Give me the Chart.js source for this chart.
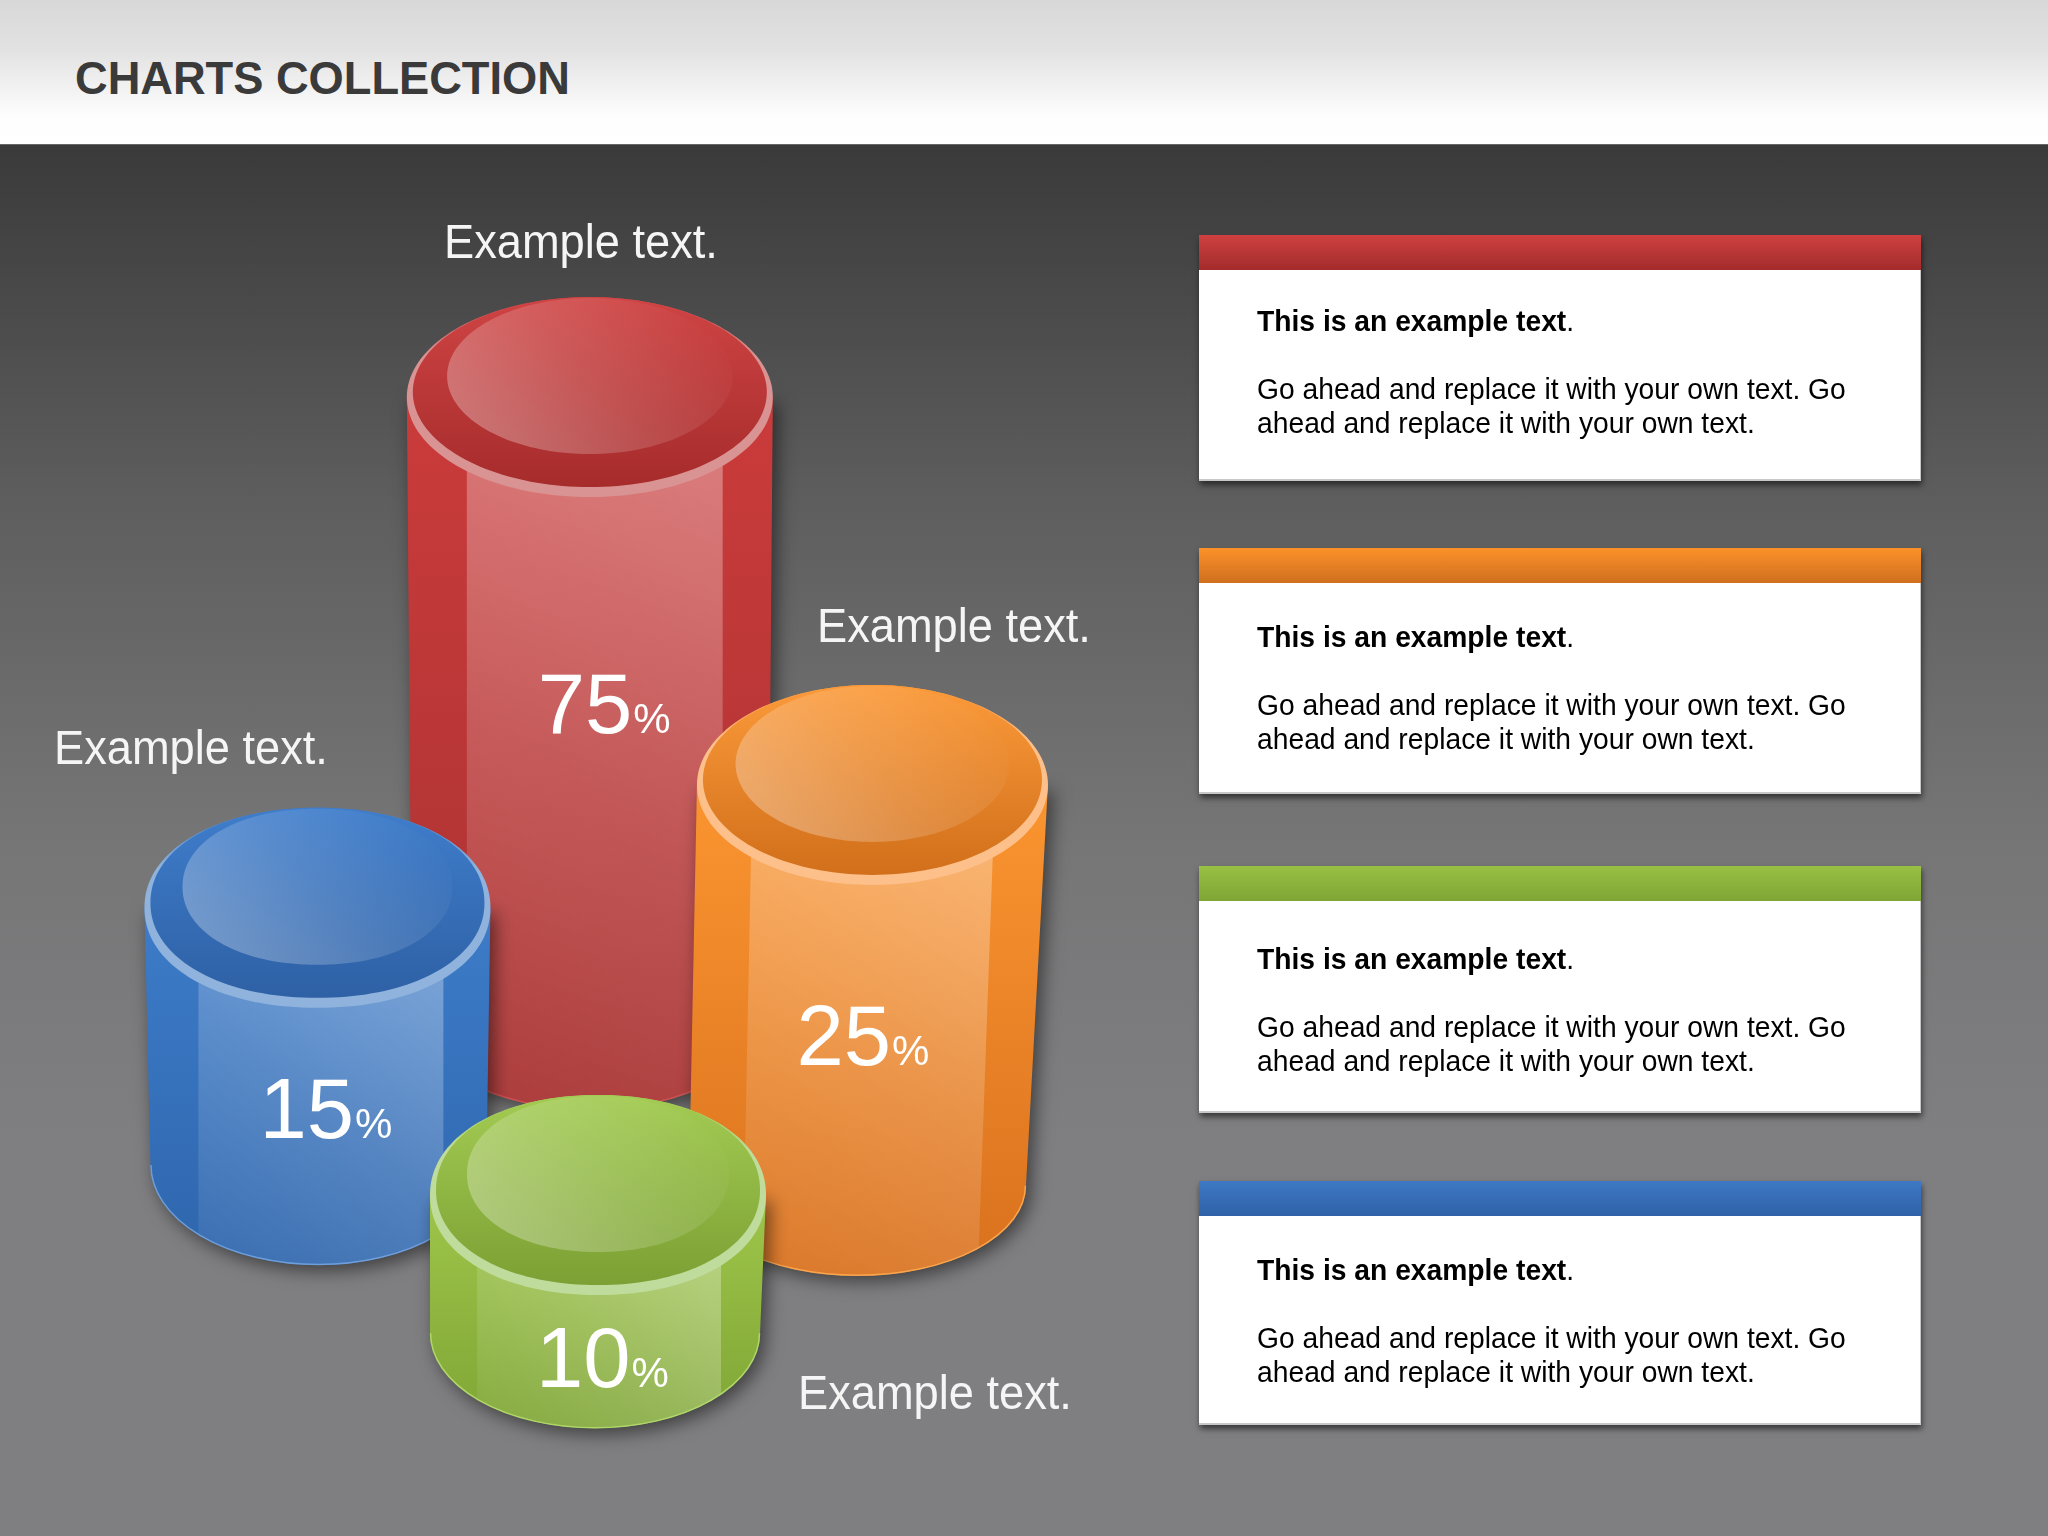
<!DOCTYPE html>
<html>
<head>
<meta charset="utf-8">
<title>Charts Collection</title>
<script src="https://cdn.jsdelivr.net/npm/chart.js@4"></script>
<style>
    html, body { margin: 0; padding: 0; }
    body { width: 2048px; height: 1536px; position: relative; overflow: hidden; font-family: "Liberation Sans", Arial, sans-serif; background: #7e7d7f; }
    #header { position: absolute; left: 0; top: 0; width: 2048px; height: 144px; background: linear-gradient(#d8d8d8 0, #e2e2e2 50px, #fdfdfd 115px, #fff 144px); }
    #header h1 { position: absolute; left: 75px; top: 53px; margin: 0; font-size: 46px; line-height: 50px; font-weight: bold; color: #3a3a3a; transform: scaleX(0.983); transform-origin: left center; }
    #stage { position: absolute; left: 0; top: 144px; width: 2048px; height: 1392px; border-top: 1px solid #666; box-sizing: border-box; background: linear-gradient(#3a3a3a 0, #5e5e5f 360px, #767677 700px, #7f7e80 1000px, #7f7e80 100%); }
    #chartCanvas { position: absolute; left: 0; top: 0; }
    .note { position: absolute; color: #f5f5f5; font-size: 48px; line-height: 56px; white-space: nowrap; transform: scaleX(0.942); transform-origin: left center; }
    .panel { position: absolute; left: 1199px; width: 722px; background: #fff; box-shadow: inset -1px -2px 0 #c8c8c8, 1px 4px 6px rgba(0, 0, 0, 0.55); }
    .panel .bar { height: 35px; }
    .panel p { position: absolute; left: 58px; margin: 0; font-size: 29px; line-height: 34px; color: #000; white-space: nowrap; transform: scaleX(0.974); transform-origin: left center; }
</style>
</head>
<body>
<div id="header"><h1>CHARTS COLLECTION</h1></div>
<div id="stage"></div>
<canvas id="chartCanvas" width="2048" height="1536"></canvas>
<div id="texts"></div>
<script>
// Cylinder values, painter's order (back to front)
const cylinderNames = ['Red', 'Blue', 'Orange', 'Green'];
const percentValues = [75, 15, 25, 10];
const cylinderCentre = [28.8, 15.5, 42.6, 29.2];
const cylinderTop = [74.15, 40.9, 48.9, 22.2];
const cylinderBottom = [34.25, 24.15, 22.8, 13.2];

const noteTexts = ['Example text.', 'Example text.', 'Example text.', 'Example text.'];
const panelHeading = 'This is an example text';
const panelLines = ['Go ahead and replace it with your own text. Go', 'ahead and replace it with your own text.'];

const cylinderStyles = [
    { width: 366, taper: 5, skew: 0, botRy: 100, round: 2.0, rim: '#d99393', bodyTop: '#cb3b3b', bodyBottom: '#a83232', capTop: '#cf4444', capBottom: '#a42a2a', edge: 'rgba(230,90,90,0.6)', panel: [0.164, 0.863, 0.164, 0.863], labelDx: -52, labelY: 733 },
    { width: 346, taper: 5, skew: 1, botRy: 100, round: 2.1, rim: '#8fb3dc', bodyTop: '#3d7cc9', bodyBottom: '#2f66ad', capTop: '#3f7dcb', capBottom: '#2d5fa3', edge: 'rgba(120,170,230,0.8)', panel: [0.156, 0.864, 0.156, 0.864], labelDx: -58, labelY: 1138 },
    { width: 351, taper: 7, skew: -15, botRy: 90, round: 2.0, rim: '#fdc08a', bodyTop: '#fb9530', bodyBottom: '#d9711e', capTop: '#fb9a3a', capBottom: '#cf6d19', edge: 'rgba(255,170,80,0.9)', panel: [0.158, 0.85, 0.13, 0.80], labelDx: -76, labelY: 1065 },
    { width: 336, taper: 3, skew: -3, botRy: 95, round: 2.1, rim: '#c0dc9c', bodyTop: '#9fc64a', bodyBottom: '#7fa535', capTop: '#a3cb53', capBottom: '#7a9e32', edge: 'rgba(180,220,110,0.9)', panel: [0.14, 0.866, 0.14, 0.866], labelDx: -62, labelY: 1387 }
];

const capRy = 100;

const noteSpots = [[444, 258], [817, 642], [54, 764], [798, 1409]];
const panelBoxes = [
    { top: 235, height: 246, colors: ['#cf4040', '#a32c2c'], textTop: 86 },
    { top: 548, height: 246, colors: ['#fb9128', '#cf6f1f'], textTop: 89 },
    { top: 866, height: 247, colors: ['#98c043', '#7fa535'], textTop: 93 },
    { top: 1181, height: 244, colors: ['#3e78c4', '#2f62a8'], textTop: 89 }
];

function buildTexts() {
    const host = document.getElementById('texts');
    noteTexts.forEach((text, i) => {
        const el = document.createElement('div');
        el.className = 'note';
        el.textContent = text;
        el.style.left = noteSpots[i][0] + 'px';
        el.style.top = (noteSpots[i][1] - 44) + 'px';
        host.appendChild(el);
    });
    panelBoxes.forEach(box => {
        const el = document.createElement('div');
        el.className = 'panel';
        el.style.top = box.top + 'px';
        el.style.height = box.height + 'px';
        const bar = document.createElement('div');
        bar.className = 'bar';
        bar.style.background = `linear-gradient(${box.colors[0]}, ${box.colors[1]})`;
        el.appendChild(bar);
        const rows = [panelHeading, panelLines[0], panelLines[1]];
        const offsets = [0, 68, 102];
        rows.forEach((row, r) => {
            const p = document.createElement('p');
            p.style.top = (box.textTop - 17 + offsets[r]) + 'px';
            if (r === 0) {
                const b = document.createElement('b');
                b.textContent = row;
                p.appendChild(b);
                p.appendChild(document.createTextNode('.'));
            } else {
                p.textContent = row;
            }
            el.appendChild(p);
        });
        host.appendChild(el);
    });
}

// slightly squared ellipse, the caps in the picture are not true ellipses
function capPath(ctx, cx, cy, rx, ry, round) {
    const steps = 160;
    ctx.beginPath();
    for (let s = 0; s < steps; s++) {
        const a = (s / steps) * Math.PI * 2;
        const c = Math.cos(a);
        const d = Math.sin(a);
        const px = cx + rx * Math.sign(c) * Math.pow(Math.abs(c), 2 / round);
        const py = cy + ry * Math.sign(d) * Math.pow(Math.abs(d), 2 / round);
        if (s === 0) ctx.moveTo(px, py);
        else ctx.lineTo(px, py);
    }
    ctx.closePath();
}

function drawCylinder(ctx, bar, style, value) {
    const cx = bar.x;
    const rx = bar.width / 2;
    const topY = bar.y;
    const botY = bar.base;
    const botCx = cx + style.skew;
    const botRx = rx - style.taper;
    const botEnd = botY + style.botRy;

    const bodyPath = () => {
        ctx.beginPath();
        ctx.moveTo(cx - rx, topY);
        ctx.lineTo(botCx - botRx, botY);
        ctx.ellipse(botCx, botY, botRx, style.botRy, 0, Math.PI, 0, true);
        ctx.lineTo(cx + rx, topY);
        ctx.closePath();
    };

    // body + soft shadow
    const bodyGrad = ctx.createLinearGradient(0, topY, 0, botEnd);
    bodyGrad.addColorStop(0, style.bodyTop);
    bodyGrad.addColorStop(1, style.bodyBottom);
    ctx.save();
    ctx.shadowColor = 'rgba(0,0,0,0.5)';
    ctx.shadowBlur = 18;
    ctx.shadowOffsetX = 5;
    ctx.shadowOffsetY = 6;
    bodyPath();
    ctx.fillStyle = bodyGrad;
    ctx.fill();
    ctx.restore();

    // front highlight strip
    ctx.save();
    bodyPath();
    ctx.clip();
    const w = rx * 2;
    const left = cx - rx;
    const p = style.panel;
    const glow = ctx.createLinearGradient(left + p[1] * w, topY, left + p[2] * w, botEnd);
    glow.addColorStop(0, 'rgba(255,255,255,0.36)');
    glow.addColorStop(0.55, 'rgba(255,255,255,0.17)');
    glow.addColorStop(1, 'rgba(255,255,255,0.05)');
    ctx.beginPath();
    ctx.moveTo(left + p[0] * w, topY);
    ctx.lineTo(left + p[1] * w, topY);
    ctx.lineTo(left + p[3] * w, botEnd);
    ctx.lineTo(left + p[2] * w, botEnd);
    ctx.closePath();
    ctx.fillStyle = glow;
    ctx.fill();
    ctx.restore();

    // thin lit line along the bottom
    ctx.beginPath();
    ctx.ellipse(botCx, botY, botRx - 0.5, style.botRy - 0.5, 0, Math.PI, 0, true);
    ctx.strokeStyle = style.edge;
    ctx.lineWidth = 1.5;
    ctx.stroke();

    // rim, fades into the cap colour towards the back
    const rimGrad = ctx.createLinearGradient(0, topY - capRy, 0, topY + capRy);
    rimGrad.addColorStop(0, style.capTop);
    rimGrad.addColorStop(0.3, style.rim);
    rimGrad.addColorStop(1, style.rim);
    capPath(ctx, cx, topY, rx, capRy, style.round);
    ctx.fillStyle = rimGrad;
    ctx.fill();

    // recessed cap
    const capGrad = ctx.createLinearGradient(0, topY - capRy, 0, topY + capRy);
    capGrad.addColorStop(0, style.capTop);
    capGrad.addColorStop(1, style.capBottom);
    capPath(ctx, cx, topY - 5, rx - 6, capRy - 5, style.round);
    ctx.fillStyle = capGrad;
    ctx.fill();

    // raised inner disc
    const discRx = rx * 0.78;
    const discRy = capRy * 0.78;
    const discY = topY - 21;
    const discBase = ctx.createLinearGradient(0, topY - capRy, 0, topY + capRy);
    discBase.addColorStop(0, style.capTop);
    discBase.addColorStop(1, style.capBottom);
    capPath(ctx, cx, discY, discRx, discRy, style.round);
    ctx.fillStyle = discBase;
    ctx.fill();
    const discGlow = ctx.createLinearGradient(cx - discRx * 0.6, discY + discRy, cx + discRx * 0.6, discY - discRy);
    discGlow.addColorStop(0, 'rgba(255,255,255,0.3)');
    discGlow.addColorStop(0.5, 'rgba(255,255,255,0.14)');
    discGlow.addColorStop(1, 'rgba(255,255,255,0.01)');
    ctx.fillStyle = discGlow;
    ctx.fill();

    // percent label
    const labelX = cx + style.labelDx;
    ctx.fillStyle = '#ffffff';
    ctx.textAlign = 'left';
    ctx.textBaseline = 'alphabetic';
    ctx.font = '85px "Liberation Sans", Arial, sans-serif';
    const num = String(value);
    ctx.fillText(num, labelX, style.labelY);
    const numWidth = ctx.measureText(num).width;
    ctx.font = '42px "Liberation Sans", Arial, sans-serif';
    ctx.fillText('%', labelX + numWidth + 1, style.labelY);
}

const cylinderPlugin = {
    id: 'cylinders',
    afterDatasetsDraw(chart) {
        const ctx = chart.ctx;
        chart.data.datasets.forEach((ds, i) => {
            const bar = chart.getDatasetMeta(i).data[0];
            ctx.save();
            drawCylinder(ctx, bar, cylinderStyles[i], percentValues[i]);
            ctx.restore();
        });
    }
};

buildTexts();

new Chart(document.getElementById('chartCanvas').getContext('2d'), {
    type: 'bar',
    data: {
        datasets: cylinderNames.map((name, i) => ({
            label: name,
            data: [{ x: cylinderCentre[i], y: [cylinderBottom[i], cylinderTop[i]] }],
            backgroundColor: 'transparent',
            barThickness: cylinderStyles[i].width,
            grouped: false
        }))
    },
    options: {
        responsive: false,
        animation: false,
        layout: { padding: 0 },
        plugins: {
            legend: { display: false },
            tooltip: { enabled: false },
            title: { display: false }
        },
        scales: {
            x: { type: 'linear', min: 0, max: 100, offset: false, display: false },
            y: { type: 'linear', min: 0, max: 100, display: false }
        }
    },
    plugins: [cylinderPlugin]
});
</script>
</body>
</html>
